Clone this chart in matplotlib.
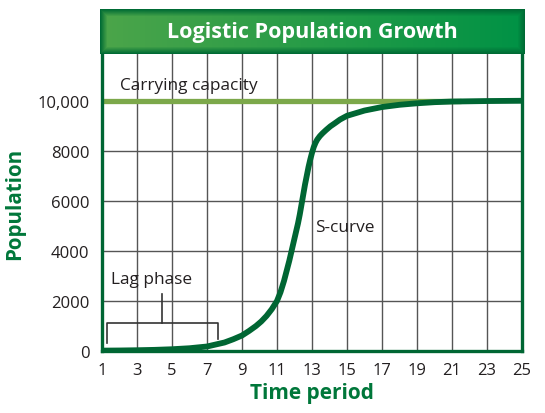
import numpy as np
import matplotlib.pyplot as plt

plt.rcParams['font.family'] = ['Open Sans', 'DejaVu Sans']

# data
time = [1, 2, 3, 4, 5, 6, 7, 8, 8.5, 9, 9.4, 9.8, 10.1, 10.4, 10.7, 11, 11.2, 11.4, 11.55, 11.7,
        11.85, 12.0, 12.2, 12.3, 12.4, 12.5, 12.6, 12.7, 12.8, 12.9, 13.0, 13.1, 13.2, 13.3,
        13.45, 13.6, 13.8, 14.05, 14.3, 14.6, 15, 16, 17, 18, 19, 20, 21, 23, 25]
population = [15, 20, 30, 45, 70, 110, 180, 340, 470, 620, 800, 1000, 1180, 1400, 1670, 2000, 2350,
              2800, 3200, 3600, 4050, 4500, 5100, 5450, 5850, 6250, 6650, 7000, 7350, 7650, 7920,
              8150, 8320, 8450, 8590, 8700, 8830, 8980, 9100, 9250, 9400, 9610, 9750, 9840, 9900,
              9945, 9970, 9990, 10000]
capacity = 10000
capacity_span = [1, 21.5]
x_ticks = list(range(1, 26, 2))
y_ticks = [0, 2000, 4000, 6000, 8000, 10000]
y_labels = ['0', '2000', '4000', '6000', '8000', '10,000']

dark = '#006633'
light = '#7ca84a'
label_green = '#00773a'
text_col = '#231f20'

fig = plt.figure(figsize=(5.45, 4.14), dpi=100)
ax = fig.add_axes([102/545, 1 - 352/414, 420/545, 297/414])

ax.set_xlim(1, 25)
ax.set_ylim(0, 11870)

# grid
for x in x_ticks[1:-1]:
    ax.axvline(x, color='#555555', lw=1.0, zorder=1)
for y in y_ticks[1:-1]:
    ax.axhline(y, color='#555555', lw=1.0, zorder=1)

ax.plot(capacity_span, [capacity, capacity], color=light, lw=3.8, solid_capstyle='butt', zorder=2)
ax.plot(time, population, color=dark, lw=4.2, solid_capstyle='butt', solid_joinstyle='round', zorder=3)

ax.set_xticks(x_ticks)
ax.set_yticks(y_ticks)
ax.set_yticklabels(y_labels)
ax.tick_params(length=0, labelsize=12, colors=text_col, pad=8)
ax.tick_params(axis='y', pad=9)

for side in ['left', 'right', 'bottom']:
    ax.spines[side].set_color(dark)
    ax.spines[side].set_linewidth(2.4)
ax.spines['top'].set_visible(False)

ax.set_xlabel('Time period', fontsize=15, fontweight='bold', color=label_green, labelpad=3)
ax.set_ylabel('Population', fontsize=14.8, fontweight='bold', color=label_green, labelpad=9)

# annotations
ax.text(2.0, 10630, 'Carrying capacity', fontsize=12.4, color=text_col, va='center', ha='left')
ax.text(13.15, 4950, 'S-curve', fontsize=12.4, color=text_col, va='center', ha='left')
ax.text(1.5, 2870, 'Lag phase', fontsize=12.4, color=text_col, va='center', ha='left')

# bracket under "Lag phase"
bx = [1.27, 1.27, 7.6, 7.6]
by = [330, 1110, 1110, 470]
ax.plot(bx, by, color='#333333', lw=1.2, zorder=4)
ax.plot([4.4, 4.4], [1110, 2280], color='#333333', lw=1.2, zorder=4)

# title bar with gradient
tax = fig.add_axes([100/545, 1 - 55/414, 425/545, 45/414])
h, w = 45, 425
cx = np.linspace(0, 1, w)
left_c = np.array([76, 165, 74]) / 255
right_c = np.array([0, 146, 69]) / 255
base = left_c[None, :] * (1 - cx[:, None]) + right_c[None, :] * cx[:, None]
img = np.repeat(base[None, :, :], h, axis=0)
edge_c = np.array([0, 107, 53]) / 255
yy = np.arange(h)
xx = np.arange(w)
dy = np.minimum(yy, h - 1 - yy)[:, None]
dx = np.minimum(xx, w - 1 - xx)[None, :]
d = np.minimum(dy, dx).astype(float)
f = np.clip(d / 7.0, 0, 1)[:, :, None]
img = edge_c * (1 - f) + img * f
tax.imshow(img, aspect='auto', extent=[0, 1, 0, 1])
tax.set_xlim(0, 1)
tax.set_ylim(0, 1)
tax.axis('off')
tax.text(0.5, 0.5, 'Logistic Population Growth', color='white', fontsize=15.5,
         fontweight='bold', ha='center', va='center')

fig.savefig('out.png', dpi=100)
